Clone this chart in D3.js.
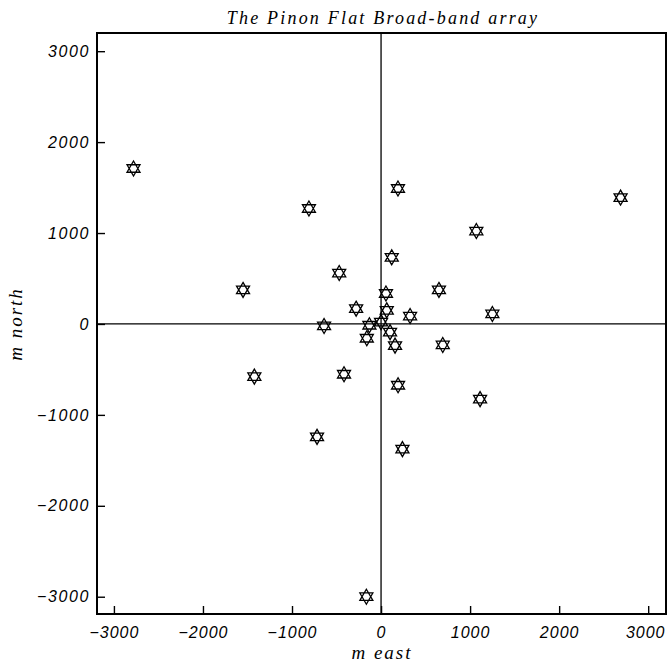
<!DOCTYPE html>
<html>
<head>
<meta charset="utf-8">
<script src="https://cdn.jsdelivr.net/npm/d3@7"></script>
<style>
  body { margin: 0; background: #fff; }
  svg { display: block; }
</style>
</head>
<body>
<svg width="668" height="664"></svg>
<script>
// station positions, metres east / north of the array centre
var east  = [-2780, -810, -470, -1550, -280, 190, 2690, 1070, 120, 650, 55, 64, 326, 1250,
             101, -640, -131, 0, -160, 157, 693, -416, -1423, 191, 1112, -719, 240, -165];
var north = [1710, 1270, 560, 374, 168, 1490, 1390, 1022, 733, 374, 335, 150, 87, 110,
             -90, -22, -14, 20, -157, -238, -231, -553, -579, -674, -827, -1242, -1377, -3000];
var tickValues = [-3000, -2000, -1000, 0, 1000, 2000, 3000];

var svg = d3.select("svg");
var plotLeft = 97, plotRight = 666, plotTop = 33, plotBottom = 614;

var x = d3.scaleLinear().domain([-3190, 3200]).range([plotLeft, plotRight]);
var y = d3.scaleLinear().domain([-3190, 3200]).range([plotBottom, plotTop]);

var sansItalic = "'Liberation Sans', Arial, sans-serif";
var serifItalic = "'Liberation Serif', 'DejaVu Serif', serif";

// zero lines
svg.append("line")
    .attr("x1", x(0)).attr("x2", x(0))
    .attr("y1", plotTop).attr("y2", plotBottom)
    .attr("stroke", "#000").attr("stroke-width", 1.3);
svg.append("line")
    .attr("x1", plotLeft).attr("x2", plotRight)
    .attr("y1", y(0)).attr("y2", y(0))
    .attr("stroke", "#000").attr("stroke-width", 1.3);

// axes, ticks point inward
var xAxis = svg.append("g")
    .attr("transform", "translate(0," + plotBottom + ")")
    .call(d3.axisBottom(x).tickValues(tickValues).tickFormat(d3.format("d")).tickSize(-8).tickPadding(13));
var yAxis = svg.append("g")
    .attr("transform", "translate(" + plotLeft + ",0)")
    .call(d3.axisLeft(y).tickValues(tickValues).tickFormat(d3.format("d")).tickSize(-8).tickPadding(7));

[xAxis, yAxis].forEach(function(g) {
    g.select(".domain").remove();
    g.selectAll(".tick line").attr("stroke", "#000").attr("stroke-width", 1.4);
    g.selectAll(".tick text")
        .attr("fill", "#000")
        .style("font-family", sansItalic)
        .style("font-style", "italic")
        .style("font-size", "16px")
        .style("letter-spacing", "1.6px");
});
// the last bottom label sits against the window edge
xAxis.selectAll(".tick text").style("letter-spacing", "1px");
xAxis.selectAll(".tick").filter(function(d) { return d === 3000; })
    .select("text").attr("x", -3);

// frame
svg.append("rect")
    .attr("x", plotLeft).attr("y", plotTop)
    .attr("width", plotRight - plotLeft).attr("height", plotBottom - plotTop)
    .attr("fill", "none").attr("stroke", "#000").attr("stroke-width", 2);

// star of David markers
function starPath(r) {
    var p = "";
    [-90, 90].forEach(function(start) {
        for (var i = 0; i < 3; i++) {
            var a = (start + i * 120) * Math.PI / 180;
            p += (i === 0 ? "M" : "L") + (r * Math.cos(a)).toFixed(2) + "," + (r * Math.sin(a)).toFixed(2);
        }
        p += "Z";
    });
    return p;
}

var stations = east.map(function(e, i) { return {e: e, n: north[i]}; });

svg.append("g").selectAll("path")
    .data(stations)
    .enter().append("path")
    .attr("d", starPath(7.5))
    .attr("transform", function(d) { return "translate(" + x(d.e) + "," + y(d.n) + ")"; })
    .attr("fill", "none")
    .attr("stroke", "#000")
    .attr("stroke-width", 1.3)
    .attr("stroke-linejoin", "miter");

// title and axis labels
svg.append("text")
    .attr("x", 383).attr("y", 24)
    .attr("text-anchor", "middle")
    .style("font-family", serifItalic)
    .style("font-style", "italic")
    .style("font-size", "18px")
    .style("letter-spacing", "2.2px")
    .text("The Pinon Flat Broad-band array");

svg.append("text")
    .attr("x", 382).attr("y", 659)
    .attr("text-anchor", "middle")
    .style("font-family", serifItalic)
    .style("font-style", "italic")
    .style("font-size", "19px")
    .style("letter-spacing", "2px")
    .text("m east");

svg.append("text")
    .attr("transform", "translate(22," + y(0) + ") rotate(-90)")
    .attr("text-anchor", "middle")
    .style("font-family", serifItalic)
    .style("font-style", "italic")
    .style("font-size", "19px")
    .style("letter-spacing", "2px")
    .text("m north");
</script>
</body>
</html>
